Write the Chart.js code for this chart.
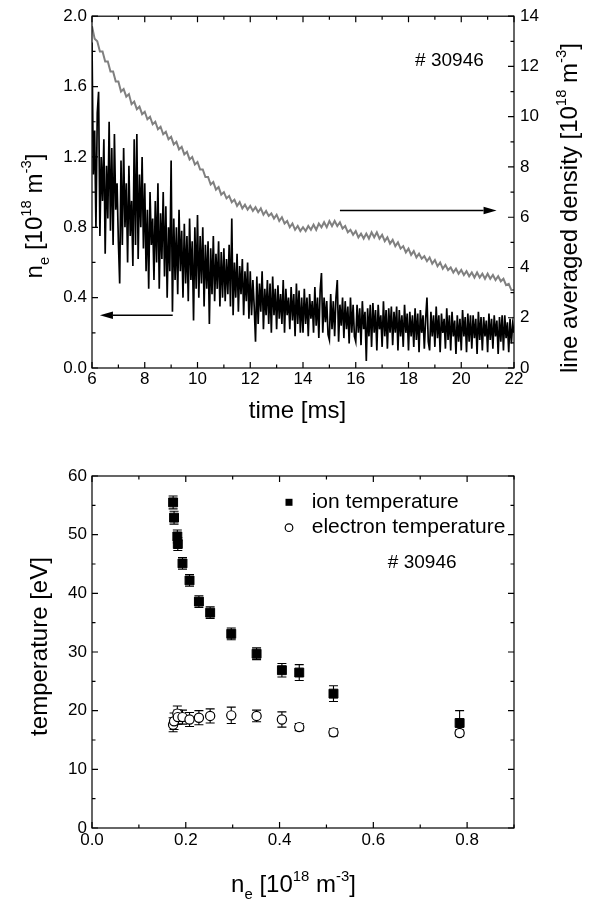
<!DOCTYPE html>
<html>
<head>
<meta charset="utf-8">
<script src="https://cdn.jsdelivr.net/npm/chart.js@4.4.1/dist/chart.umd.min.js"></script>
<style>
  html, body { margin: 0; padding: 0; background: #fff; }
  canvas { display: block; }
</style>
</head>
<body>
<canvas id="densidad" width="596" height="440"></canvas>
<canvas id="temperatura" width="596" height="459"></canvas>
<script>
// traza temporal #30946 desde 6 ms: n_e una muestra cada 0.05 ms, densidad de linea cada 0.1 ms
const t0 = 6, dtNe = 0.05, dtAvg = 0.1;
const neLocal = [
  1.85, 1.10, 1.35, 0.80, 1.45, 1.57, 0.75, 1.20, 0.95, 1.30, 0.65, 1.15, 0.85, 1.40, 0.78, 1.25, 0.70, 1.33, 0.90, 1.05,
  0.72, 0.48, 1.18, 0.70, 1.25, 0.80, 1.05, 0.60, 1.15, 0.75, 0.95, 0.58, 1.30, 0.70, 1.33, 0.62, 1.10, 0.80, 1.20, 0.68,
  1.05, 0.55, 0.90, 0.45, 1.00, 0.70, 0.85, 0.50, 0.95, 0.60, 1.05, 0.45, 0.88, 0.62, 1.00, 0.52, 0.92, 0.40, 0.80, 0.55,
  1.18, 0.32, 0.85, 0.50, 0.80, 0.42, 0.90, 0.55, 0.78, 0.40, 0.82, 0.48, 0.75, 0.38, 0.85, 0.50, 0.72, 0.27, 0.80, 0.45,
  0.87, 0.40, 0.75, 0.48, 0.80, 0.35, 0.70, 0.45, 0.72, 0.25, 0.68, 0.42, 0.75, 0.38, 0.65, 0.45, 0.72, 0.35, 0.66, 0.40,
  0.68, 0.38, 0.62, 0.42, 0.70, 0.35, 0.85, 0.30, 0.60, 0.40, 0.65, 0.32, 0.58, 0.42, 0.62, 0.30, 0.55, 0.38, 0.60, 0.28,
  0.55, 0.30, 0.50, 0.35, 0.15, 0.52, 0.25, 0.48, 0.32, 0.55, 0.22, 0.45, 0.30, 0.50, 0.25, 0.48, 0.20, 0.52, 0.30, 0.45,
  0.22, 0.47, 0.28, 0.42, 0.25, 0.50, 0.20, 0.45, 0.30, 0.40, 0.22, 0.46, 0.27, 0.42, 0.18, 0.48, 0.25, 0.44, 0.20, 0.40,
  0.20, 0.45, 0.25, 0.40, 0.18, 0.42, 0.28, 0.38, 0.20, 0.46, 0.24, 0.40, 0.17, 0.44, 0.54, 0.20, 0.40, 0.26, 0.38, 0.19,
  0.16, 0.42, 0.22, 0.38, 0.18, 0.40, 0.50, 0.15, 0.36, 0.24, 0.40, 0.17, 0.38, 0.22, 0.35, 0.14, 0.40, 0.20, 0.36, 0.18,
  0.15, 0.36, 0.20, 0.34, 0.13, 0.38, 0.22, 0.32, 0.04, 0.34, 0.18, 0.36, 0.12, 0.37, 0.20, 0.33, 0.10, 0.36, 0.22, 0.30,
  0.12, 0.38, 0.18, 0.33, 0.11, 0.34, 0.20, 0.35, 0.13, 0.32, 0.20, 0.35, 0.10, 0.33, 0.18, 0.30, 0.12, 0.36, 0.20, 0.31,
  0.10, 0.32, 0.18, 0.30, 0.12, 0.34, 0.16, 0.31, 0.09, 0.33, 0.20, 0.30, 0.11, 0.28, 0.40, 0.15, 0.10, 0.32, 0.18, 0.30,
  0.12, 0.35, 0.17, 0.30, 0.09, 0.31, 0.20, 0.28, 0.11, 0.34, 0.16, 0.30, 0.10, 0.32, 0.18, 0.27, 0.08, 0.30, 0.15, 0.28,
  0.10, 0.33, 0.18, 0.29, 0.09, 0.31, 0.15, 0.30, 0.11, 0.30, 0.17, 0.28, 0.08, 0.32, 0.16, 0.29, 0.10, 0.29, 0.18, 0.27,
  0.09, 0.31, 0.16, 0.28, 0.11, 0.30, 0.18, 0.27, 0.08, 0.29, 0.15, 0.30, 0.10, 0.30, 0.17, 0.26, 0.09, 0.28, 0.14, 0.25,
  0.20
];
const lineAvg = [
  13.6, 13.1, 13.0, 12.6, 12.6, 12.2, 12.2, 11.8, 11.8, 11.4,
  11.4, 11.0, 11.1, 10.8, 10.9, 10.5, 10.6, 10.3, 10.4, 10.1,
  10.2, 9.9, 10.0, 9.7, 9.8, 9.5, 9.6, 9.3, 9.4, 9.1,
  9.2, 8.9, 9.0, 8.7, 8.8, 8.5, 8.6, 8.3, 8.4, 8.1,
  8.2, 7.9, 7.9, 7.6, 7.6, 7.3, 7.4, 7.1, 7.2, 6.9,
  7.0, 6.75, 6.85, 6.6, 6.7, 6.45, 6.6, 6.35, 6.5, 6.3,
  6.45, 6.25, 6.4, 6.2, 6.35, 6.1, 6.25, 6.05, 6.15, 5.95,
  6.1, 5.85, 6.0, 5.75, 5.85, 5.6, 5.75, 5.5, 5.65, 5.45,
  5.6, 5.45, 5.65, 5.5, 5.7, 5.5, 5.75, 5.6, 5.8, 5.6,
  5.85, 5.65, 5.85, 5.65, 5.8, 5.55, 5.65, 5.4, 5.5, 5.3,
  5.45, 5.2, 5.35, 5.15, 5.35, 5.15, 5.4, 5.2, 5.4, 5.15,
  5.3, 5.05, 5.2, 4.95, 5.1, 4.85, 5.0, 4.75, 4.85, 4.6,
  4.75, 4.5, 4.65, 4.4, 4.55, 4.35, 4.45, 4.25, 4.4, 4.15,
  4.3, 4.05, 4.2, 3.95, 4.1, 3.9, 4.0, 3.8, 3.95, 3.75,
  3.9, 3.7, 3.85, 3.65, 3.8, 3.6, 3.8, 3.6, 3.75, 3.55,
  3.75, 3.55, 3.7, 3.5, 3.65, 3.45, 3.55, 3.3, 3.35, 3.1,
  3.1
];
const timeTicks = [6, 8, 10, 12, 14, 16, 18, 20, 22];
const neTicks = [0, 0.4, 0.8, 1.2, 1.6, 2.0];
const lineTicks = [0, 2, 4, 6, 8, 10, 12, 14];
// flechas: tiempo de inicio, tiempo de la punta, valor en su eje
const arrowLeft = [9.06, 6.30, 0.30];
const arrowRight = [15.40, 21.34, 6.27];

// temperaturas frente a n_e
const neScan = [0.173, 0.175, 0.182, 0.183, 0.193, 0.208, 0.228, 0.252, 0.297, 0.351, 0.405, 0.442, 0.515, 0.784];
const ionT   = [55.5, 52.9, 49.7, 48.4, 45.1, 42.2, 38.6, 36.7, 33.1, 29.7, 26.9, 26.5, 22.9, 17.9];
const ionErr = [1.1, 1.1, 1.1, 1.1, 1.0, 1.0, 1.0, 1.0, 1.0, 1.0, 1.15, 1.35, 1.35, 2.1];
const eleT   = [17.6, 18.2, 19.5, 18.9, 18.9, 18.5, 18.8, 19.1, 19.2, 19.1, 18.5, 17.2, 16.3, 16.2];
const eleErr = [1.2, 1.4, 1.3, 1.2, 1.2, 1.2, 1.2, 1.2, 1.4, 1.0, 1.3, 0.6, 0.6, 0.5];
const scanTicks = [0, 0.2, 0.4, 0.6, 0.8];
const tempTicks = [0, 10, 20, 30, 40, 50, 60];

const FONT = "'Liberation Sans', Arial, Helvetica, sans-serif";
Chart.defaults.font.family = FONT;
Chart.defaults.color = '#000';

const neParts = [['n'], ['e', 'sub'], [' [10'], ['18', 'sup'], [' m'], ['-3', 'sup'], [']']];
const lineParts = [['line averaged density [10'], ['18', 'sup'], [' m'], ['-3', 'sup'], [']']];

function drawRich(ctx, parts, x, y, rot, size) {
  ctx.save();
  ctx.translate(x, y);
  ctx.rotate(rot);
  ctx.fillStyle = '#000';
  ctx.textAlign = 'left';
  ctx.textBaseline = 'alphabetic';
  const fs = p => (p[1] ? size * 0.62 : size);
  let w = 0;
  parts.forEach(p => { ctx.font = fs(p) + 'px ' + FONT; w += ctx.measureText(p[0]).width; });
  let cx = -w / 2;
  parts.forEach(p => {
    ctx.font = fs(p) + 'px ' + FONT;
    const dy = p[1] === 'sup' ? -size * 0.45 : p[1] === 'sub' ? size * 0.3 : 0;
    ctx.fillText(p[0], cx, dy);
    cx += ctx.measureText(p[0]).width;
  });
  ctx.restore();
}

// marco y marcas hacia dentro en los cuatro lados
const frame = {
  id: 'frame',
  afterDraw(chart, args, o) {
    const { ctx, chartArea: a, scales } = chart;
    const marks = (scale, step) => {
      const out = scale.ticks.map(t => [t.value, 6]);
      for (let v = scale.min; v <= scale.max + 1e-9; v += step) out.push([v, 3.5]);
      return out;
    };
    ctx.save();
    ctx.strokeStyle = '#000';
    ctx.lineWidth = 1.2;
    ctx.beginPath();
    marks(scales.x, o.xMinor).forEach(([v, len]) => {
      const px = scales.x.getPixelForValue(v);
      ctx.moveTo(px, a.bottom); ctx.lineTo(px, a.bottom - len);
      ctx.moveTo(px, a.top); ctx.lineTo(px, a.top + len);
    });
    marks(scales.y, o.yMinor).forEach(([v, len]) => {
      const py = scales.y.getPixelForValue(v);
      ctx.moveTo(a.left, py); ctx.lineTo(a.left + len, py);
      if (!scales.y2) { ctx.moveTo(a.right, py); ctx.lineTo(a.right - len, py); }
    });
    if (scales.y2) {
      marks(scales.y2, o.y2Minor).forEach(([v, len]) => {
        const py = scales.y2.getPixelForValue(v);
        ctx.moveTo(a.right, py); ctx.lineTo(a.right - len, py);
      });
    }
    ctx.stroke();
    ctx.strokeRect(a.left, a.top, a.right - a.left, a.bottom - a.top);
    ctx.restore();
  }
};

// títulos, rótulos, flechas y leyenda
const notes = {
  id: 'notes',
  afterDraw(chart, args, o) {
    const { ctx, scales } = chart;
    ctx.save();
    ctx.fillStyle = '#000';
    ctx.strokeStyle = '#000';
    (o.titles || []).forEach(t => drawRich(ctx, t.parts, t.x, t.y, t.rot || 0, t.size));
    (o.texts || []).forEach(t => {
      ctx.font = t.size + 'px ' + FONT;
      ctx.textAlign = 'left';
      ctx.textBaseline = 'alphabetic';
      ctx.fillText(t.text, scales.x.getPixelForValue(t.at[0]), scales.y.getPixelForValue(t.at[1]));
    });
    (o.arrows || []).forEach(ar => {
      const x0 = scales.x.getPixelForValue(ar.v[0]);
      const x1 = scales.x.getPixelForValue(ar.v[1]);
      const y = scales[ar.axis].getPixelForValue(ar.v[2]);
      const d = Math.sign(x1 - x0), head = 13;
      ctx.lineWidth = 1.5;
      ctx.beginPath(); ctx.moveTo(x0, y); ctx.lineTo(x1 - d * head, y); ctx.stroke();
      ctx.beginPath();
      ctx.moveTo(x1, y);
      ctx.lineTo(x1 - d * head, y - 3.8);
      ctx.lineTo(x1 - d * head, y + 3.8);
      ctx.closePath();
      ctx.fill();
    });
    if (o.legend) {
      const L = o.legend;
      L.items.forEach((idx, k) => {
        const ds = chart.data.datasets[idx];
        const my = L.y + k * L.gap;
        if (ds.pointStyle === 'rect') {
          ctx.fillStyle = '#000';
          ctx.fillRect(L.x - 3.5, my - 3.5, 7, 7);
        } else {
          ctx.beginPath();
          ctx.arc(L.x, my, 3.8, 0, Math.PI * 2);
          ctx.fillStyle = '#fff'; ctx.fill();
          ctx.lineWidth = 1.2; ctx.stroke();
        }
        ctx.fillStyle = '#000';
        ctx.font = L.size + 'px ' + FONT;
        ctx.textAlign = 'left';
        ctx.textBaseline = 'alphabetic';
        ctx.fillText(ds.label, L.textX, my + 5.7);
      });
    }
    ctx.restore();
  }
};

const errorBars = {
  id: 'errorBars',
  beforeDatasetsDraw(chart) {
    const { ctx } = chart;
    const y = chart.scales.y;
    ctx.save();
    ctx.strokeStyle = '#000';
    ctx.lineWidth = 1.1;
    chart.data.datasets.forEach((ds, i) => {
      if (!ds.err) return;
      chart.getDatasetMeta(i).data.forEach((pt, j) => {
        const v = ds.data[j].y, e = ds.err[j];
        const top = y.getPixelForValue(v + e), bot = y.getPixelForValue(v - e);
        ctx.beginPath();
        ctx.moveTo(pt.x, top); ctx.lineTo(pt.x, bot);
        ctx.moveTo(pt.x - 4.5, top); ctx.lineTo(pt.x + 4.5, top);
        ctx.moveTo(pt.x - 4.5, bot); ctx.lineTo(pt.x + 4.5, bot);
        ctx.stroke();
      });
    });
    ctx.restore();
  }
};

function axis(tickList, min, max, fmt, pad, fit, position) {
  return {
    type: 'linear', position, min, max,
    afterBuildTicks: s => { s.ticks = tickList.map(v => ({ value: v })); },
    grid: { display: false, drawTicks: false },
    border: { display: false },
    ticks: { color: '#000', font: { size: 17 }, padding: pad, autoSkip: false, maxRotation: 0, callback: fmt },
    afterFit: fit
  };
}

new Chart(document.getElementById('densidad'), {
  type: 'line',
  data: {
    datasets: [
      {
        label: 'n_e',
        data: neLocal.map((v, i) => ({ x: t0 + i * dtNe, y: v })),
        borderColor: '#000', borderWidth: 1.7, pointRadius: 0, yAxisID: 'y'
      },
      {
        label: 'line averaged density',
        data: lineAvg.map((v, i) => ({ x: t0 + i * dtAvg, y: v })),
        borderColor: '#808080', borderWidth: 2, pointRadius: 0, yAxisID: 'y2'
      }
    ]
  },
  options: {
    responsive: false,
    animation: false,
    layout: { padding: { top: 15, left: 0, right: 0, bottom: 0 } },
    plugins: {
      legend: { display: false },
      tooltip: { enabled: false },
      frame: { xMinor: 1, yMinor: 0.2, y2Minor: 1 },
      notes: {
        titles: [
          { parts: [['time [ms]']], x: 297.5, y: 418, size: 24 },
          { parts: neParts, x: 42, y: 216, rot: -Math.PI / 2, size: 24 },
          { parts: lineParts, x: 577, y: 208, rot: -Math.PI / 2, size: 24 }
        ],
        texts: [{ text: '# 30946', at: [18.25, 1.717], size: 19 }],
        arrows: [{ v: arrowLeft, axis: 'y' }, { v: arrowRight, axis: 'y2' }]
      }
    },
    scales: {
      x: axis(timeTicks, 6, 22, v => v, 1, s => { s.height = 72; }, 'bottom'),
      y: axis(neTicks, 0, 2, v => v.toFixed(1), 5, s => { s.width = 92; }, 'left'),
      y2: axis(lineTicks, 0, 14, v => v, 6, s => { s.width = 82; }, 'right')
    }
  },
  plugins: [frame, notes]
});

new Chart(document.getElementById('temperatura'), {
  type: 'scatter',
  data: {
    datasets: [
      {
        label: 'electron temperature',
        data: neScan.map((x, i) => ({ x, y: eleT[i] })),
        err: eleErr,
        pointStyle: 'circle', pointRadius: 4.6,
        backgroundColor: '#fff', borderColor: '#000', borderWidth: 1.2
      },
      {
        label: 'ion temperature',
        data: neScan.map((x, i) => ({ x, y: ionT[i] })),
        err: ionErr,
        pointStyle: 'rect', pointRadius: 6.3,
        backgroundColor: '#000', borderColor: '#000', borderWidth: 1
      }
    ]
  },
  options: {
    responsive: false,
    animation: false,
    layout: { padding: { top: 36, left: 0, right: 82, bottom: 0 } },
    plugins: {
      legend: { display: false },
      tooltip: { enabled: false },
      frame: { xMinor: 0.1, yMinor: 5 },
      notes: {
        titles: [
          { parts: neParts, x: 293.5, y: 452, size: 24 },
          { parts: [['temperature [eV]']], x: 47, y: 206.5, rot: -Math.PI / 2, size: 24 }
        ],
        texts: [{ text: '# 30946', at: [0.631, 44.3], size: 19 }],
        legend: { items: [1, 0], x: 289, y: 62.3, gap: 25.4, textX: 311.7, size: 21 }
      }
    },
    scales: {
      x: axis(scanTicks, 0, 0.9, v => v.toFixed(1), 2, s => { s.height = 71; }, 'bottom'),
      y: axis(tempTicks, 0, 60, v => v, 5, s => { s.width = 92; }, 'left')
    }
  },
  plugins: [errorBars, frame, notes]
});
</script>
</body>
</html>
